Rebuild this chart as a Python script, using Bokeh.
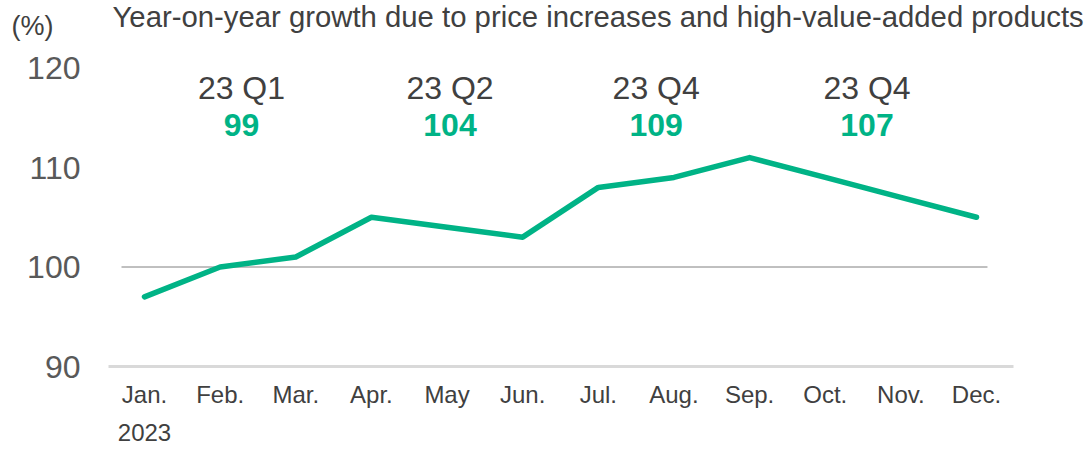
from bokeh.plotting import figure
from bokeh.layouts import column
from bokeh.models import Range1d, FixedTicker, LinearAxis
from bokeh.core.properties import value
from bokeh.embed import file_html
from bokeh.resources import INLINE

# ---- data ----
months = ["Jan.", "Feb.", "Mar.", "Apr.", "May", "Jun.", "Jul.", "Aug.", "Sep.", "Oct.", "Nov.", "Dec."]
growth = [97, 100, 101, 105, 104, 103, 108, 109, 111, 109, 107, 105]
quarter_labels = ["23 Q1", "23 Q2", "23 Q4", "23 Q4"]
quarter_values = [99, 104, 109, 107]
y_ticks = [90, 100, 110, 120]
ref_value = 100
year_label = "2023"
title_text = "Year-on-year growth due to price increases and high-value-added products"
unit_text = "(%)"

# ---- layout constants ----
quarter_x = [1.282, 4.039, 6.765, 9.552]
quarter_label_y = 118.02
quarter_value_y = 114.31

GREEN = "#00b386"
DARK = "#404040"
FONT = "Liberation Sans"
W = 1086

xs = list(range(len(months)))

# ---- header (title + unit) ----
h = figure(width=W, height=48, output_backend="svg", toolbar_location=None, title=None,
           x_range=Range1d(0, W), y_range=Range1d(48, 0),
           min_border_left=0, min_border_right=0, min_border_top=0, min_border_bottom=0)
h.frame_align = False
h.outline_line_color = None
h.axis.visible = False
h.grid.visible = False
h.text(x=[112], y=[16.2], text=[title_text], text_font=value(FONT), text_font_size="29.3px",
       text_color=DARK, text_align="left", text_baseline="alphabetic")
h.text(x=[11], y=[25], text=[unit_text], text_font=value(FONT), text_font_size="27px",
       text_color=DARK, text_align="left", text_baseline="alphabetic")

# ---- main chart ----
p = figure(width=W, height=401, output_backend="svg", toolbar_location=None, title=None,
           x_range=Range1d(-0.476, 11.489), y_range=Range1d(90, 121.96),
           min_border_left=108, min_border_right=73, min_border_top=0, min_border_bottom=83)
p.frame_align = False
p.outline_line_color = None
p.xgrid.visible = False
p.ygrid.visible = False

# x axis (months)
xa = p.xaxis[0]
xa.ticker = FixedTicker(ticks=xs)
xa.major_label_overrides = {i: m for i, m in enumerate(months)}
xa.axis_line_color = "#d9d9d9"
xa.axis_line_width = 3
xa.major_tick_line_color = None
xa.minor_tick_line_color = None
xa.major_tick_out = 0
xa.major_tick_in = 0
xa.major_label_standoff = 14
xa.major_label_text_font = FONT
xa.major_label_text_font_size = "24px"
xa.major_label_text_color = DARK

# second x axis (year)
xa2 = LinearAxis(ticker=FixedTicker(ticks=[xs[0]]), major_label_overrides={xs[0]: year_label})
xa2.axis_line_color = None
xa2.major_tick_line_color = None
xa2.minor_tick_line_color = None
xa2.major_tick_out = 0
xa2.major_tick_in = 0
xa2.major_label_standoff = 13
xa2.major_label_text_font = FONT
xa2.major_label_text_font_size = "24px"
xa2.major_label_text_color = DARK
p.add_layout(xa2, "below")

# y axis
ya = p.yaxis[0]
ya.ticker = FixedTicker(ticks=y_ticks)
ya.axis_line_color = None
ya.major_tick_line_color = None
ya.minor_tick_line_color = None
ya.major_tick_out = 0
ya.major_tick_in = 0
ya.major_label_standoff = 28
ya.major_label_text_font = FONT
ya.major_label_text_font_size = "32px"
ya.major_label_text_color = "#595959"

# reference line at 100
p.segment(x0=[xs[0] - 0.304], x1=[xs[-1] + 0.145], y0=[ref_value], y1=[ref_value],
          line_color="#808080", line_width=1)

# main line
p.line(xs, growth, line_color=GREEN, line_width=5.5, line_join="round", line_cap="round")

# quarter annotations
p.text(x=quarter_x, y=[quarter_label_y] * len(quarter_x), text=quarter_labels,
       text_font=value(FONT), text_font_size="32px", text_color=DARK,
       text_align="center", text_baseline="alphabetic")
p.text(x=quarter_x, y=[quarter_value_y] * len(quarter_x), text=[str(v) for v in quarter_values],
       text_font=value(FONT), text_font_size="32px", text_color=GREEN, text_font_style="bold",
       text_align="center", text_baseline="alphabetic")

layout = column(h, p)
open("out.html", "w").write(file_html(layout, INLINE))
